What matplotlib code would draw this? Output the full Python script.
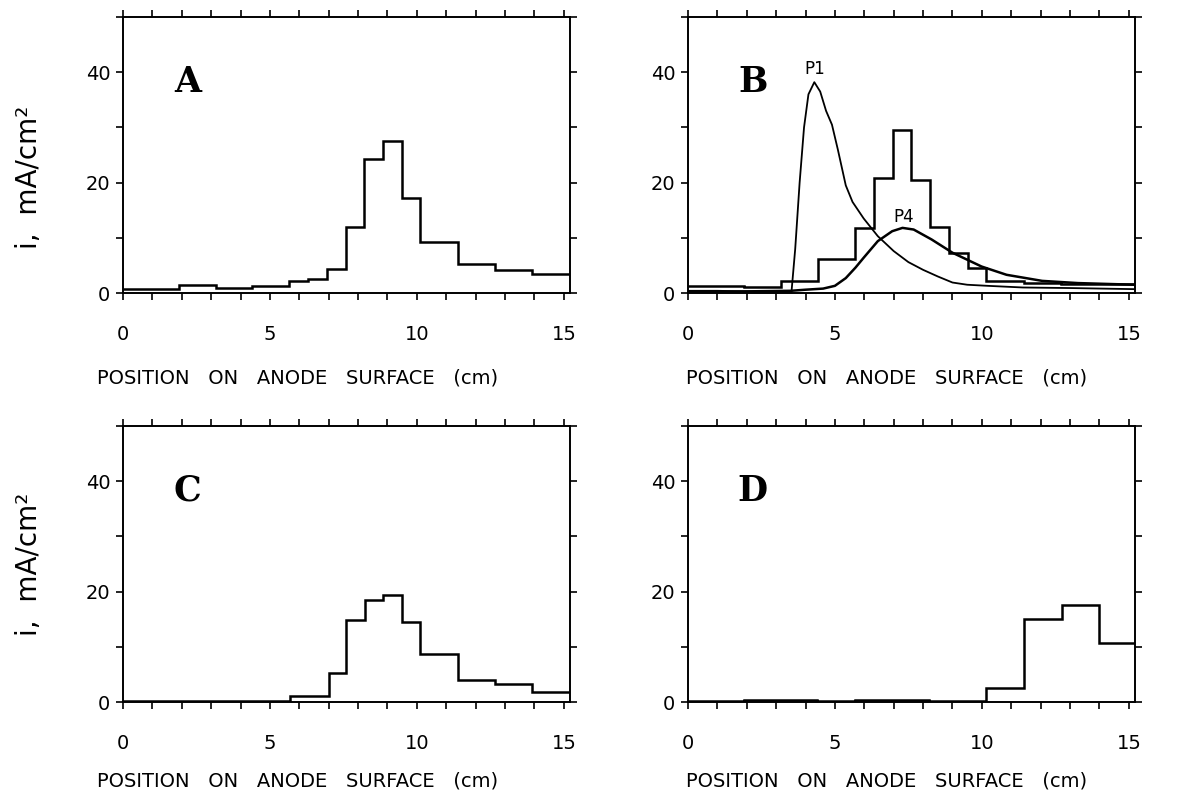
import numpy as np
import matplotlib
matplotlib.use("Agg")
import matplotlib.pyplot as plt
from matplotlib.ticker import MultipleLocator

# step edges (cm) and current density (mA/cm^2)
edges_a = [0, 1.9, 3.15, 4.4, 5.65, 6.3, 6.95, 7.6, 8.2, 8.85, 9.5, 10.1, 11.4, 12.65, 13.9, 15.2]
vals_a = [0.7, 1.4, 0.9, 1.2, 2.1, 2.5, 4.4, 12.0, 24.2, 27.6, 17.3, 9.3, 5.3, 4.1, 3.5]

edges_b = [0, 1.9, 3.16, 4.42, 5.7, 6.32, 6.97, 7.6, 8.23, 8.87, 9.53, 10.13, 11.45, 12.7, 15.2]
vals_b = [1.3, 1.1, 2.2, 6.1, 11.7, 20.9, 29.6, 20.5, 11.9, 7.2, 4.5, 2.2, 1.8, 1.6]

edges_c = [0, 1.9, 3.2, 4.4, 5.7, 7.0, 7.6, 8.23, 8.86, 9.5, 10.12, 11.4, 12.65, 13.93, 15.2]
vals_c = [0.15, 0.2, 0.15, 0.25, 1.1, 5.2, 14.8, 18.4, 19.4, 14.5, 8.7, 4.0, 3.2, 1.8]

edges_d = [0, 1.9, 3.2, 4.4, 5.7, 7.0, 8.2, 10.15, 11.45, 12.72, 14.0, 15.2]
vals_d = [0.25, 0.35, 0.3, 0.2, 0.3, 0.35, 0.1, 2.6, 15.0, 17.5, 10.7]

# computed curves in panel B
p1_x = [0, 1, 2, 3, 3.52, 3.65, 3.8, 3.95, 4.1, 4.3, 4.5, 4.7, 4.9, 5.1, 5.37, 5.6,
        5.98, 6.46, 7.0, 7.5, 8.0, 8.5, 9.0, 9.5, 10.2, 11.4, 13.0, 15.2]
p1_y = [0.4, 0.4, 0.3, 0.2, 0.0, 8, 20, 30, 36, 38.2, 36.5, 33, 30.5, 26, 19.5, 16.5,
        13.5, 10.3, 7.6, 5.6, 4.2, 3.0, 1.9, 1.5, 1.3, 1.0, 0.9, 0.7]
p4_x = [0, 2, 3.5, 4.0, 4.6, 5.0, 5.37, 5.7, 5.98, 6.46, 6.95, 7.3, 7.68, 8.29, 9.0,
        9.99, 10.84, 12.05, 13.27, 15.2]
p4_y = [0.2, 0.3, 0.4, 0.6, 0.8, 1.3, 2.7, 4.6, 6.4, 9.4, 11.2, 11.8, 11.5, 9.7, 7.3,
        4.8, 3.3, 2.2, 1.8, 1.5]

panels = ["A", "B", "C", "D"]
xlabel = "POSITION   ON   ANODE   SURFACE   (cm)"
ylabel = "i,  mA/cm²"


def setup_axes(ax, letter, ylab_y, xlab_x, xlab_y):
    ax.set_xlim(0, 15.2)
    ax.set_ylim(0, 50)
    ax.xaxis.set_major_locator(MultipleLocator(1))
    ax.yaxis.set_major_locator(MultipleLocator(10))
    ax.set_xticks(range(16))
    ax.set_xticklabels([str(i) if i % 5 == 0 else "" for i in range(16)])
    ax.set_yticks(range(0, 51, 10))
    ax.set_yticklabels(["0", "", "20", "", "40", ""])
    ax.tick_params(direction="out", length=5, width=1.2, top=True, right=True,
                   labelsize=14, color="black")
    ax.tick_params(axis="x", pad=18)
    ax.tick_params(axis="y", pad=4)
    for s in ax.spines.values():
        s.set_linewidth(1.4)
    ax.set_xlabel(xlabel, fontsize=14)
    ax.xaxis.set_label_coords(xlab_x, xlab_y)
    if ylab_y is not None:
        ax.set_ylabel(ylabel, fontsize=20)
        ax.yaxis.set_label_coords(-0.18, ylab_y)
    ax.text(2.2, 38.3, letter, fontsize=25, fontweight="bold", family="DejaVu Serif",
            ha="center", va="center")


def main():
    fig = plt.figure(figsize=(11.82, 7.93), dpi=100)
    w, h = 0.378, 0.348
    ax_a = fig.add_axes([0.104, 0.6305, w, h])
    ax_b = fig.add_axes([0.582, 0.6305, w, h])
    ax_c = fig.add_axes([0.104, 0.1147, w, h])
    ax_d = fig.add_axes([0.582, 0.1147, w, h])

    ax_a.stairs(vals_a, edges_a, baseline=None, color="black", lw=1.8)
    ax_b.stairs(vals_b, edges_b, baseline=None, color="black", lw=1.8)
    ax_b.plot(p1_x, p1_y, color="black", lw=1.3)
    ax_b.plot(p4_x, p4_y, color="black", lw=1.8)
    ax_c.stairs(vals_c, edges_c, baseline=None, color="black", lw=1.8)
    ax_d.stairs(vals_d, edges_d, baseline=None, color="black", lw=1.8)

    ax_b.text(4.3, 40.5, "P1", fontsize=12, ha="center", va="center")
    ax_b.text(7.35, 13.7, "P4", fontsize=12, ha="center", va="center")

    setup_axes(ax_a, panels[0], 0.42, 0.39, -0.275)
    setup_axes(ax_b, panels[1], None, 0.445, -0.275)
    setup_axes(ax_c, panels[2], 0.5, 0.39, -0.25)
    setup_axes(ax_d, panels[3], None, 0.445, -0.25)

    fig.savefig("out.png", dpi=100)


if __name__ == "__main__":
    main()
